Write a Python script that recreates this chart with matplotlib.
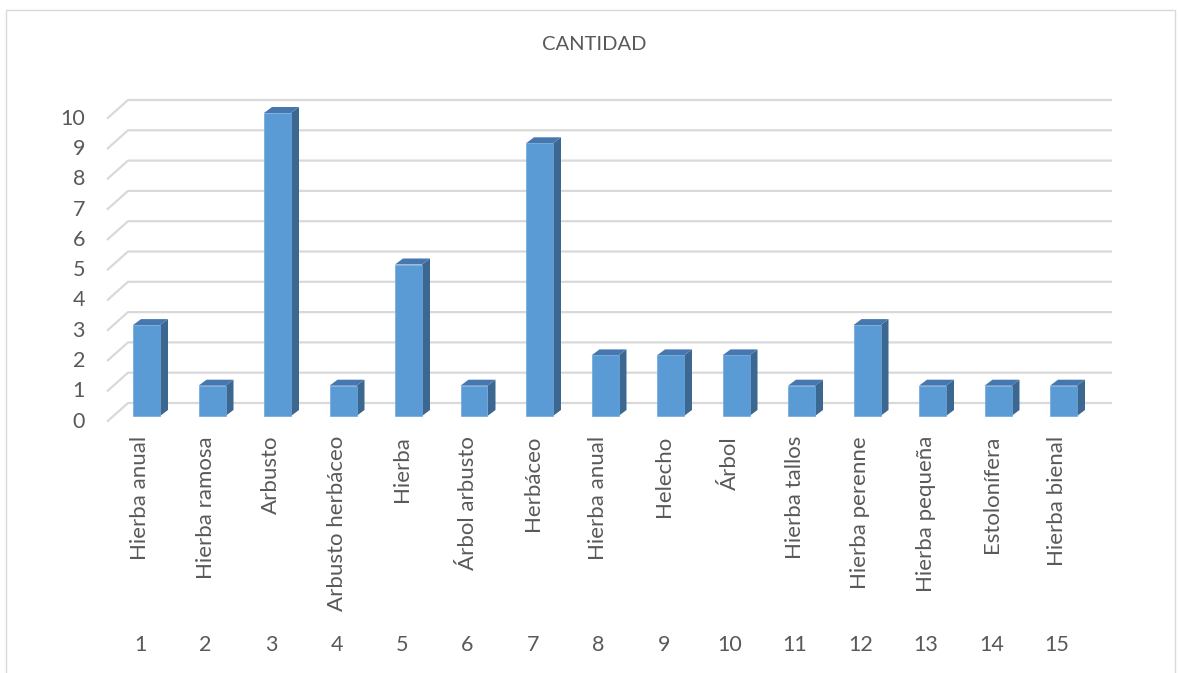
import matplotlib
matplotlib.use("Agg")
import matplotlib.pyplot as plt
from matplotlib.patches import Polygon, Rectangle

categories = ["Hierba anual", "Hierba ramosa", "Arbusto", "Arbusto herbáceo", "Hierba",
              "Árbol arbusto", "Herbáceo", "Hierba anual", "Helecho", "Árbol",
              "Hierba tallos", "Hierba perenne", "Hierba pequeña", "Estolonífera", "Hierba bienal"]
numbers = list(range(1, 16))
values = [3, 1, 10, 1, 5, 1, 9, 2, 2, 2, 1, 3, 1, 1, 1]
yticks = list(range(0, 11))
title = "CANTIDAD"

W, H = 1179, 673
fig = plt.figure(figsize=(W / 100, H / 100), dpi=100)
FONT = ["Lato", "DejaVu Sans"]
TXT = "#595959"
GRID = "#D9D9D9"

# pixel mapping
px_per_cat = 65.5
cat1_px = 146.5
px_per_val = 30.3
zero_px = 416.0

ax_left_px, ax_right_px = 100, 1120
ax_top_px, ax_bot_px = 95, 425
ax = fig.add_axes([ax_left_px / W, 1 - ax_bot_px / H,
                   (ax_right_px - ax_left_px) / W, (ax_bot_px - ax_top_px) / H])
ax.set_xlim(1 + (ax_left_px - cat1_px) / px_per_cat, 1 + (ax_right_px - cat1_px) / px_per_cat)
ax.set_ylim((zero_px - ax_bot_px) / px_per_val, (zero_px - ax_top_px) / px_per_val)
ax.axis("off")

# outer chart border
fig.patches.append(Rectangle((6 / W, -0.01), (1175 - 6) / W, 1 - 10 / H + 0.01,
                             transform=fig.transFigure, fill=False, edgecolor=GRID, linewidth=1.0))

# gridlines (3D back wall + floor diagonal)
back_dy = (zero_px - 403) / px_per_val
front_dy = -(421.7 - zero_px) / px_per_val
back_x0 = 1 + (128 - cat1_px) / px_per_cat
front_x0 = 1 + (107 - cat1_px) / px_per_cat
back_x1 = 1 + (1112 - cat1_px) / px_per_cat
for v in yticks:
    ax.plot([front_x0, back_x0, back_x1], [v + front_dy, v + back_dy, v + back_dy],
            color=GRID, linewidth=1.6, solid_capstyle="butt", zorder=1)
    ax.text(1 + (85 - cat1_px) / px_per_cat, v + front_dy, str(v), ha="right", va="center",
            fontsize=15.5, color=TXT, family=FONT)

# 3D bars
hw = 13.5 / px_per_cat
ddx = 8 / px_per_cat
ddy = 6 / px_per_val
FRONT = "#5B9BD5"
TOP = "#4677AE"
SIDE = "#3B6790"
for i, v in enumerate(values):
    c = i + 1
    x0, x1 = c - hw, c + hw
    ax.add_patch(Polygon([(x1, 0), (x1 + ddx, ddy), (x1 + ddx, v + ddy), (x1, v)],
                         closed=True, facecolor=SIDE, edgecolor="none", zorder=3))
    ax.add_patch(Polygon([(x0, v), (x1, v), (x1 + ddx, v + ddy), (x0 + ddx, v + ddy)],
                         closed=True, facecolor=TOP, edgecolor="none", zorder=3))
    ax.add_patch(Rectangle((x0, 0), x1 - x0, v, facecolor=FRONT, edgecolor="#6FA8DC",
                           linewidth=0.5, zorder=4))

# category labels (rotated) and numbers
lab_off = -6.5 / px_per_cat
for i, (name, n) in enumerate(zip(categories, numbers)):
    xf = (cat1_px + i * px_per_cat + lab_off * px_per_cat) / W
    fig.text(xf, 1 - 436 / H, name, rotation=90, ha="center", va="top",
             fontsize=16, color=TXT, family=FONT)
    fig.text(xf, 1 - 645 / H, str(n), ha="center", va="center",
             fontsize=15.5, color=TXT, family=FONT)

fig.text(594 / W, 1 - 45 / H, title, ha="center", va="center", fontsize=14.5,
         color=TXT, family=FONT)

fig.savefig("out.png", dpi=100, facecolor="white")
